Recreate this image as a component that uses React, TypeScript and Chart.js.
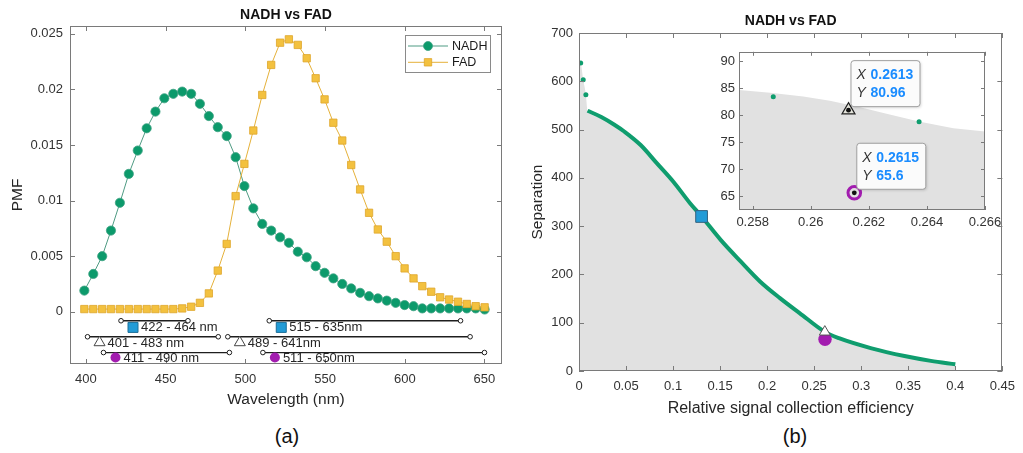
import React, { useEffect, useRef } from "react";
import { Chart, registerables } from "chart.js";

Chart.register(...registerables);
const FONT = "'Liberation Sans', Arial, Helvetica, sans-serif";
Chart.defaults.font.family = FONT;
Chart.defaults.color = "#333333";

// ---------------- Panel (a) data ----------------
const wavelengths = [
  399.0, 404.6, 410.2, 415.7, 421.3, 426.9, 432.5, 438.1, 443.6, 449.2,
  454.8, 460.4, 466.0, 471.5, 477.1, 482.7, 488.3, 493.9, 499.4, 505.0,
  510.6, 516.2, 521.8, 527.3, 532.9, 538.5, 544.1, 549.7, 555.2, 560.8,
  566.4, 572.0, 577.6, 583.1, 588.7, 594.3, 599.9, 605.5, 611.0, 616.6,
  622.2, 627.8, 633.4, 638.9, 644.5, 650.1,
];
const nadhPmf = [
  0.0019, 0.0034, 0.005, 0.0073, 0.0098, 0.0124, 0.0145, 0.0165, 0.018, 0.0192,
  0.0196, 0.0198, 0.0196, 0.0187, 0.0176, 0.0166, 0.0158, 0.0139, 0.0113, 0.0093,
  0.0079, 0.0073, 0.0067, 0.0062, 0.0054, 0.0049, 0.0041, 0.0035, 0.003, 0.0025,
  0.0021, 0.0017, 0.0014, 0.0012, 0.001, 0.0008, 0.0006, 0.0005, 0.0003, 0.0003,
  0.0003, 0.0003, 0.0003, 0.0003, 0.0003, 0.0002,
];
const fadPmf = [
  0.00024, 0.00024, 0.00024, 0.00024, 0.00024, 0.00024, 0.00024, 0.00024, 0.00024, 0.00024,
  0.00024, 0.0003, 0.00045, 0.0008, 0.00165, 0.0037, 0.0061, 0.0104, 0.0133, 0.0163,
  0.0195, 0.0222, 0.0242, 0.0245, 0.024, 0.0228, 0.021, 0.0191, 0.017, 0.0154,
  0.0132, 0.011, 0.0089, 0.0074, 0.0063, 0.005, 0.0039, 0.003, 0.0023, 0.0018,
  0.0013, 0.0011, 0.0009, 0.0007, 0.0005, 0.0004,
];
const pmfTicks = [0, 0.005, 0.01, 0.015, 0.02, 0.025];
const wavelengthTicks = [400, 450, 500, 550, 600, 650];

const bandStart = [422, 515, 401, 489, 411, 511];
const bandEnd = [464, 635, 483, 641, 490, 650];
const bandRow = [0, 0, 1, 1, 2, 2];
const bandLabels = ["422 - 464 nm", "515 - 635nm", "401 - 483 nm", "489 - 641nm", "411 - 490 nm", "511 - 650nm"];

// ---------------- Panel (b) data ----------------
const efficiencyTicks = [0, 0.05, 0.1, 0.15, 0.2, 0.25, 0.3, 0.35, 0.4, 0.45];
const separationTicks = [0, 100, 200, 300, 400, 500, 600, 700];
const cloudTopX = [0, 0.0018, 0.0045, 0.0073];
const cloudTopY = [641, 638, 603, 572];
const frontDotX = [0.0018, 0.0045, 0.0073];
const frontDotY = [638, 603, 572];
const frontX = [0.0091, 0.0237, 0.0376, 0.0481, 0.0655, 0.0829, 0.1003, 0.1178, 0.1303, 0.1508, 0.1718, 0.1927, 0.2136, 0.2345, 0.2613, 0.2763, 0.311, 0.346, 0.374, 0.4];
const frontY = [539, 526, 510, 496, 468, 430, 392, 348, 320, 271, 227, 185, 151, 120, 81, 68, 47, 31, 21, 14];
const pickX = [0.1303, 0.2613, 0.2615];
const pickY = [320, 80.96, 65.6];

// ---------------- Inset data ----------------
const insetTickX = [0.258, 0.26, 0.262, 0.264, 0.266];
const insetTickY = [65, 70, 75, 80, 85, 90];
const insetCloudX = [0.25753, 0.2586, 0.25974, 0.26066, 0.2617, 0.26261, 0.26376, 0.26491, 0.266];
const insetCloudY = [84.7, 84.2, 83.5, 82.7, 81.5, 80.3, 78.8, 77.6, 77.0];
const insetDotX = [0.25871, 0.26373];
const insetDotY = [83.45, 78.8];

// ---------------- styling / layout constants ----------------
const GREEN = "#0f9d6e";
const FRAME = "#7a7a7a";
const BAND_LINE_Y = [-0.00081, -0.00225, -0.00367];
const BAND_TEXT_Y = [-0.00141, -0.00277, -0.00412];
const ROW_MARKERS = [
  { kind: "rect", size: 10, fill: "#229bd6", stroke: "#1d6e98" },
  { kind: "triangle", size: 11, fill: "#ffffff", stroke: "#444444" },
  { kind: "circle", size: 10, fill: "#a21caf", stroke: null },
];

function drawMarker(ctx: CanvasRenderingContext2D, kind: string, x: number, y: number, size: number, fill: string | null, stroke: string | null, lw = 1) {
  ctx.save();
  ctx.beginPath();
  if (kind === "rect") ctx.rect(x - size / 2, y - size / 2, size, size);
  else if (kind === "triangle") {
    const h = size * 0.866;
    ctx.moveTo(x, y - (h * 2) / 3);
    ctx.lineTo(x + size / 2, y + h / 3);
    ctx.lineTo(x - size / 2, y + h / 3);
    ctx.closePath();
  } else ctx.arc(x, y, size / 2, 0, Math.PI * 2);
  if (fill) {
    ctx.fillStyle = fill;
    ctx.fill();
  }
  if (stroke) {
    ctx.strokeStyle = stroke;
    ctx.lineWidth = lw;
    ctx.stroke();
  }
  ctx.restore();
}

const fixedTicks = (values: number[]) => (scale: any) => {
  scale.ticks = values.map((v) => ({ value: v }));
};

const frameTicks = {
  id: "frameTicks",
  afterDatasetsDraw(chart: any, _a: any, opts: any) {
    const { ctx, chartArea: a, scales } = chart;
    const xs = scales.x, ys = scales.y;
    const len = opts.len ?? 5;
    ctx.save();
    ctx.strokeStyle = FRAME;
    ctx.lineWidth = 1;
    ctx.beginPath();
    for (const t of xs.ticks) {
      const px = Math.round(xs.getPixelForValue(t.value)) + 0.5;
      ctx.moveTo(px, a.bottom);
      ctx.lineTo(px, a.bottom - len);
      ctx.moveTo(px, a.top);
      ctx.lineTo(px, a.top + len);
    }
    for (const t of ys.ticks) {
      const py = Math.round(ys.getPixelForValue(t.value)) + 0.5;
      ctx.moveTo(a.left, py);
      ctx.lineTo(a.left + len, py);
      ctx.moveTo(a.right, py);
      ctx.lineTo(a.right - len, py);
    }
    ctx.stroke();
    ctx.strokeRect(Math.round(a.left) + 0.5, Math.round(a.top) + 0.5, Math.round(a.right - a.left) - 1, Math.round(a.bottom - a.top) - 1);
    ctx.restore();
  },
};

const whiteArea = {
  id: "whiteArea",
  beforeDatasetsDraw(chart: any) {
    const { ctx, chartArea: a } = chart;
    ctx.save();
    ctx.fillStyle = "#ffffff";
    ctx.fillRect(a.left, a.top, a.right - a.left, a.bottom - a.top);
    ctx.restore();
  },
};

const legendBox = {
  id: "legendBox",
  afterDatasetsDraw(chart: any) {
    const { ctx, chartArea: a } = chart;
    const bx = a.right - 97, by = a.top + 9, bw = 85, bh = 37;
    ctx.save();
    ctx.fillStyle = "#ffffff";
    ctx.fillRect(bx, by, bw, bh);
    ctx.strokeStyle = "#8a8a8a";
    ctx.lineWidth = 1;
    ctx.strokeRect(bx + 0.5, by + 0.5, bw, bh);
    const entries = [
      { text: "NADH", line: "#4f9b83", kind: "circle", size: 9, fill: "#0c9a6b", stroke: "#3fa283" },
      { text: "FAD", line: "#e5b13a", kind: "rect", size: 7.4, fill: "#f3c13f", stroke: "#dea62b" },
    ];
    entries.forEach((e, i) => {
      const y = by + 11 + i * 16.3;
      ctx.strokeStyle = e.line;
      ctx.lineWidth = 1;
      ctx.beginPath();
      ctx.moveTo(bx + 3, y);
      ctx.lineTo(bx + 43, y);
      ctx.stroke();
      drawMarker(ctx, e.kind, bx + 23, y, e.size, e.fill, e.stroke, 0.8);
      ctx.fillStyle = "#1a1a1a";
      ctx.font = `12.5px ${FONT}`;
      ctx.textBaseline = "middle";
      ctx.textAlign = "left";
      ctx.fillText(e.text, bx + 47, y + 0.5);
    });
    ctx.restore();
  },
};

const bandLabelPlugin = {
  id: "bandLabels",
  afterDatasetsDraw(chart: any) {
    const { ctx, scales } = chart;
    const x = scales.x, y = scales.y;
    ctx.save();
    bandStart.forEach((s, i) => {
      const row = bandRow[i];
      const mx = x.getPixelForValue(s) + 12;
      const my = y.getPixelForValue(BAND_TEXT_Y[row]);
      const m = ROW_MARKERS[row];
      drawMarker(ctx, m.kind, mx, my, m.size, m.fill, m.stroke, 1);
      ctx.font = `13px ${FONT}`;
      ctx.fillStyle = "#262626";
      ctx.textBaseline = "middle";
      ctx.textAlign = "left";
      ctx.fillText(bandLabels[i], mx + 8, my + 0.5);
    });
    ctx.restore();
  },
};

const dataTips = {
  id: "dataTips",
  afterDatasetsDraw(chart: any) {
    const { ctx, scales } = chart;
    const x = scales.x, y = scales.y;
    [1, 2].forEach((i) => {
      const px = x.getPixelForValue(pickX[i]);
      const py = y.getPixelForValue(pickY[i]);
      const bx = px + 2, by = py - 50, bw = 69, bh = 46;
      ctx.save();
      ctx.shadowColor = "rgba(0,0,0,0.18)";
      ctx.shadowBlur = 3;
      ctx.shadowOffsetX = 1;
      ctx.shadowOffsetY = 1;
      ctx.beginPath();
      (ctx as any).roundRect(bx + 0.5, by + 0.5, bw, bh, 3);
      ctx.fillStyle = "#fbfbfb";
      ctx.fill();
      ctx.shadowColor = "transparent";
      ctx.strokeStyle = "#a0a0a0";
      ctx.lineWidth = 1;
      ctx.stroke();
      ctx.textBaseline = "middle";
      ctx.textAlign = "left";
      ctx.font = `italic 14px ${FONT}`;
      ctx.fillStyle = "#333333";
      ctx.fillText("X", bx + 6, by + 15);
      ctx.fillText("Y", bx + 6, by + 33);
      ctx.font = `bold 14px ${FONT}`;
      ctx.fillStyle = "#1a8cff";
      ctx.fillText(String(pickX[i]), bx + 20, by + 15);
      ctx.fillText(String(pickY[i]), bx + 20, by + 33);
      ctx.restore();
    });
  },
};

const noPlugins = { legend: { display: false }, tooltip: { enabled: false } };

function makeLeft(): any {
  const bandSets = bandStart.map((s, i) => ({
    label: bandLabels[i],
    data: [
      { x: s, y: BAND_LINE_Y[bandRow[i]] },
      { x: bandEnd[i], y: BAND_LINE_Y[bandRow[i]] },
    ],
    borderColor: "#1e1e1e",
    borderWidth: 1.3,
    pointRadius: 2.3,
    pointBackgroundColor: "#ffffff",
    pointBorderColor: "#1e1e1e",
    pointBorderWidth: 1,
    order: 5,
  }));
  return {
    type: "line",
    data: {
      datasets: [
        {
          label: "NADH",
          data: wavelengths.map((w, i) => ({ x: w, y: nadhPmf[i] })),
          borderColor: "#4f9b83",
          borderWidth: 1,
          pointStyle: "circle",
          pointRadius: 4.6,
          pointBackgroundColor: "#0c9a6b",
          pointBorderColor: "#3fa283",
          pointBorderWidth: 0.8,
          order: 2,
        },
        {
          label: "FAD",
          data: wavelengths.map((w, i) => ({ x: w, y: fadPmf[i] })),
          borderColor: "#e5b13a",
          borderWidth: 1,
          pointStyle: "rect",
          pointRadius: 5.2,
          pointBackgroundColor: "#f3c13f",
          pointBorderColor: "#dea62b",
          pointBorderWidth: 0.8,
          order: 1,
        },
        ...bandSets,
      ],
    },
    options: {
      responsive: false,
      animation: false,
      events: [],
      layout: { padding: { left: 0, right: 13, top: 0, bottom: 0 } },
      plugins: {
        ...noPlugins,
        title: {
          display: true,
          text: "NADH vs FAD",
          fullSize: false,
          color: "#111111",
          font: { size: 14, weight: "bold" },
          padding: { top: 7, bottom: 2.2 },
        },
        frameTicks: { len: 5 },
      },
      scales: {
        x: {
          type: "linear",
          min: 390,
          max: 661,
          afterBuildTicks: fixedTicks(wavelengthTicks),
          afterFit: (s: any) => { s.height = 56; },
          grid: { display: false, drawTicks: false },
          border: { display: false },
          ticks: { padding: 8, autoSkip: false, maxRotation: 0, font: { size: 13 }, callback: (v: any) => String(v) },
          title: { display: true, text: "Wavelength (nm)", color: "#262626", font: { size: 15.5 }, padding: { top: 0, bottom: 10.7 } },
        },
        y: {
          type: "linear",
          min: -0.0047,
          max: 0.0257,
          afterBuildTicks: fixedTicks(pmfTicks),
          afterFit: (s: any) => { s.width = 70; },
          grid: { display: false, drawTicks: false },
          border: { display: false },
          ticks: { padding: 7, autoSkip: false, font: { size: 13 }, callback: (v: any) => String(v) },
          title: { display: true, text: "PMF", color: "#262626", font: { size: 15.5 }, padding: { top: 8, bottom: 0 } },
        },
      },
    },
    plugins: [frameTicks, legendBox, bandLabelPlugin],
  };
}

function makeRight(): any {
  const cloud = cloudTopX.map((x, i) => ({ x, y: cloudTopY[i] })).concat(frontX.map((x, i) => ({ x, y: frontY[i] })));
  return {
    type: "line",
    data: {
      datasets: [
        {
          label: "cloud",
          data: cloud,
          borderColor: "rgba(0,0,0,0)",
          borderWidth: 0,
          pointRadius: 0,
          fill: "origin",
          backgroundColor: "#e1e1e1",
          cubicInterpolationMode: "monotone",
          order: 10,
        },
        {
          label: "front",
          data: frontX.map((x, i) => ({ x, y: frontY[i] })),
          borderColor: GREEN,
          borderWidth: 4,
          pointRadius: 0,
          cubicInterpolationMode: "monotone",
          order: 6,
        },
        {
          label: "front dots",
          data: frontDotX.map((x, i) => ({ x, y: frontDotY[i] })),
          showLine: false,
          pointRadius: 2.5,
          pointBackgroundColor: GREEN,
          pointBorderWidth: 0,
          order: 5,
        },
        {
          label: "square",
          data: [{ x: pickX[0], y: pickY[0] }],
          showLine: false,
          pointStyle: "rect",
          pointRadius: 8.3,
          pointBackgroundColor: "#219bd7",
          pointBorderColor: "#35627f",
          pointBorderWidth: 1,
          order: 3,
        },
        {
          label: "circle",
          data: [{ x: pickX[2], y: pickY[2] }],
          showLine: false,
          pointStyle: "circle",
          pointRadius: 6.7,
          pointBackgroundColor: "#a21caf",
          pointBorderWidth: 0,
          order: 2,
        },
        {
          label: "triangle",
          data: [{ x: pickX[1], y: pickY[1] }],
          showLine: false,
          pointStyle: "triangle",
          pointRadius: 6.3,
          pointBackgroundColor: "#ffffff",
          pointBorderColor: "#555555",
          pointBorderWidth: 1,
          order: 1,
        },
      ],
    },
    options: {
      responsive: false,
      animation: false,
      events: [],
      layout: { padding: { left: 0, right: 14, top: 0, bottom: 0 } },
      plugins: {
        ...noPlugins,
        title: {
          display: true,
          text: "NADH vs FAD",
          fullSize: false,
          color: "#111111",
          font: { size: 14, weight: "bold" },
          padding: { top: 12.6, bottom: 3.6 },
        },
        frameTicks: { len: 5 },
      },
      scales: {
        x: {
          type: "linear",
          min: 0,
          max: 0.45,
          afterBuildTicks: fixedTicks(efficiencyTicks),
          afterFit: (s: any) => { s.height = 49; },
          grid: { display: false, drawTicks: false },
          border: { display: false },
          ticks: { padding: 8, autoSkip: false, maxRotation: 0, font: { size: 13 }, callback: (v: any) => String(v) },
          title: { display: true, text: "Relative signal collection efficiency", color: "#262626", font: { size: 16 }, padding: { top: 0, bottom: 2.1 } },
        },
        y: {
          type: "linear",
          min: 0,
          max: 700,
          afterBuildTicks: fixedTicks(separationTicks),
          afterFit: (s: any) => { s.width = 64; },
          grid: { display: false, drawTicks: false },
          border: { display: false },
          ticks: { padding: 6, autoSkip: false, font: { size: 13 }, callback: (v: any) => String(v) },
          title: { display: true, text: "Separation", color: "#262626", font: { size: 15.5 }, padding: { top: 13.7, bottom: 0 } },
        },
      },
    },
    plugins: [frameTicks],
  };
}

function makeInset(): any {
  return {
    type: "line",
    data: {
      datasets: [
        {
          label: "cloud",
          data: insetCloudX.map((x, i) => ({ x, y: insetCloudY[i] })),
          borderColor: "rgba(0,0,0,0)",
          borderWidth: 0,
          pointRadius: 0,
          fill: "start",
          backgroundColor: "#e1e1e1",
          order: 10,
        },
        {
          label: "front dots",
          data: insetDotX.map((x, i) => ({ x, y: insetDotY[i] })),
          showLine: false,
          pointRadius: 2.5,
          pointBackgroundColor: GREEN,
          pointBorderWidth: 0,
          order: 5,
        },
        {
          label: "ring",
          data: [{ x: pickX[2], y: pickY[2] }],
          showLine: false,
          pointRadius: 6.3,
          pointBackgroundColor: "rgba(0,0,0,0)",
          pointBorderColor: "#a21caf",
          pointBorderWidth: 3,
          order: 3,
        },
        {
          label: "triangle",
          data: [{ x: pickX[1], y: pickY[1] }],
          showLine: false,
          pointStyle: "triangle",
          pointRadius: 7.5,
          pointBackgroundColor: "rgba(230,230,215,0.6)",
          pointBorderColor: "#222222",
          pointBorderWidth: 1.2,
          order: 2,
        },
        {
          label: "centres",
          data: [1, 2].map((i) => ({ x: pickX[i], y: pickY[i] })),
          showLine: false,
          pointRadius: 2.4,
          pointBackgroundColor: "#111111",
          pointBorderWidth: 0,
          order: 1,
        },
      ],
    },
    options: {
      responsive: false,
      animation: false,
      events: [],
      layout: { padding: { left: 0, right: 27, top: 8.3, bottom: 0 } },
      plugins: { ...noPlugins, frameTicks: { len: 4 } },
      scales: {
        x: {
          type: "linear",
          min: 0.25753,
          max: 0.266,
          afterBuildTicks: fixedTicks(insetTickX),
          afterFit: (s: any) => { s.height = 25; },
          grid: { display: false, drawTicks: false },
          border: { display: false },
          ticks: { padding: 5, autoSkip: false, maxRotation: 0, font: { size: 13 }, callback: (v: any) => String(v) },
        },
        y: {
          type: "linear",
          min: 62.4,
          max: 91.8,
          afterBuildTicks: fixedTicks(insetTickY),
          afterFit: (s: any) => { s.width = 27; },
          grid: { display: false, drawTicks: false },
          border: { display: false },
          ticks: { padding: 4, autoSkip: false, font: { size: 13 }, callback: (v: any) => String(v) },
        },
      },
    },
    plugins: [whiteArea, frameTicks, dataTips],
  };
}

function ChartBox(props: { make: () => any; left: number; top: number; width: number; height: number }) {
  const ref = useRef<HTMLCanvasElement | null>(null);
  useEffect(() => {
    if (!ref.current) return;
    const chart = new Chart(ref.current, props.make());
    return () => chart.destroy();
  }, []);
  const { left, top, width, height } = props;
  return <canvas ref={ref} width={width} height={height} style={{ position: "absolute", left, top, width, height }} />;
}

const caption = (cx: number): React.CSSProperties => ({
  position: "absolute",
  left: cx - 40,
  top: 423,
  width: 80,
  height: 26,
  lineHeight: "26px",
  textAlign: "center",
  fontSize: 20,
  fontFamily: FONT,
  color: "#111111",
});

export default function App() {
  return (
    <div style={{ position: "fixed", left: 0, top: 0, width: 1023, height: 453, background: "#ffffff", overflow: "hidden" }}>
      <ChartBox make={makeLeft} left={0} top={0} width={515} height={420} />
      <ChartBox make={makeRight} left={515} top={0} width={508} height={420} />
      <ChartBox make={makeInset} left={712} top={40} width={300} height={195} />
      <div style={caption(287)}>(a)</div>
      <div style={caption(795)}>(b)</div>
    </div>
  );
}
